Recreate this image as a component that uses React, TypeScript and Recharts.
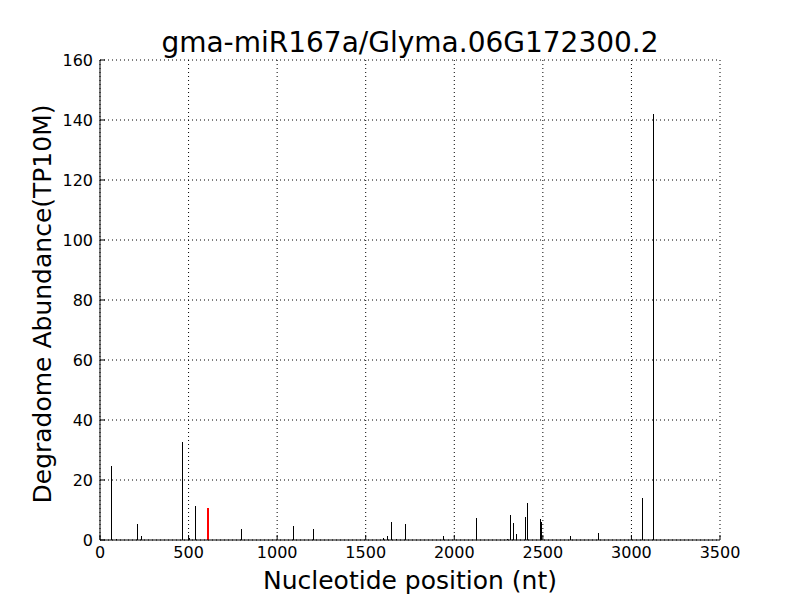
import { Bar, CartesianGrid, Cell, ComposedChart, XAxis, YAxis } from "recharts";

const positions = [66, 94, 216, 235, 470, 510, 542, 615, 803, 1097, 1210, 1603, 1628, 1650, 1675, 1729, 1944, 2130, 2301, 2320, 2339, 2356, 2405, 2414, 2490, 2497, 2657, 2815, 3067, 3126];
const abundance = [24.8, 0.3, 5.2, 1.2, 32.8, 0.7, 11.2, 10.8, 3.6, 4.8, 3.6, 0.8, 1.2, 6.1, 0.3, 5.2, 1.2, 7.2, 0.5, 8.2, 5.6, 2.0, 7.6, 12.2, 7.1, 6.1, 1.2, 2.2, 13.9, 142];
const targetPosition = 615;
const xTicks = [0, 500, 1000, 1500, 2000, 2500, 3000, 3500];
const yTicks = [0, 20, 40, 60, 80, 100, 120, 140, 160];

const rows = positions.map((pos, i) => ({ pos, value: abundance[i] }));

const font = "'DejaVu Sans', sans-serif";
const tickStyle = { fill: "#000", fontSize: 16, fontFamily: font };

function Stick(props: any) {
  const { x, y, width, height, payload } = props;
  const red = payload.pos === targetPosition;
  const w = red ? 2 : 1;
  const left = Math.floor(x + width / 2 - w / 2);
  return (
    <rect
      x={left}
      y={y}
      width={w}
      height={height}
      fill={red ? "#ff0000" : "#000"}
      shapeRendering="crispEdges"
    />
  );
}

export default function App() {
  return (
    <div style={{ position: "absolute", left: 0, top: 0, width: 800, height: 600, background: "#fff", fontFamily: font }}>
      <div style={{ position: "absolute", left: 0, width: 820, top: 26, textAlign: "center", fontSize: 28 }}>
        gma-miR167a/Glyma.06G172300.2
      </div>
      <div style={{ position: "absolute", left: 0, width: 820, top: 566, textAlign: "center", fontSize: 25 }}>
        Nucleotide position (nt)
      </div>
      <div
        style={{
          position: "absolute",
          left: 42,
          top: 304,
          transform: "translate(-50%, -50%) rotate(-90deg)",
          whiteSpace: "nowrap",
          fontSize: 25
        }}
      >
        Degradome Abundance(TP10M)
      </div>
      <ComposedChart width={800} height={600} data={rows} margin={{ top: 60, right: 80, bottom: 0, left: 0 }}>
        <CartesianGrid xAxisId="main" yAxisId="main" stroke="#000" strokeDasharray="1 3" />
        <XAxis
          xAxisId="main"
          dataKey="pos"
          type="number"
          domain={[0, 3500]}
          ticks={xTicks}
          allowDataOverflow
          height={60}
          stroke="#000"
          tickSize={-5}
          tickMargin={12}
          tick={tickStyle}
        />
        <XAxis xAxisId="top" orientation="top" type="number" domain={[0, 3500]} ticks={xTicks} height={0} stroke="#000" tickSize={-5} tick={false} />
        <YAxis
          yAxisId="main"
          type="number"
          domain={[0, 160]}
          ticks={yTicks}
          width={100}
          stroke="#000"
          tickSize={-5}
          tickMargin={12}
          tick={tickStyle}
        />
        <YAxis yAxisId="right" orientation="right" type="number" domain={[0, 160]} ticks={yTicks} width={0} stroke="#000" tickSize={-5} tick={false} />
        <Bar xAxisId="main" yAxisId="main" dataKey="value" barSize={2} shape={Stick} isAnimationActive={false}>
          {rows.map((r) => (
            <Cell key={r.pos} fill={r.pos === targetPosition ? "#ff0000" : "#000"} />
          ))}
        </Bar>
      </ComposedChart>
    </div>
  );
}
